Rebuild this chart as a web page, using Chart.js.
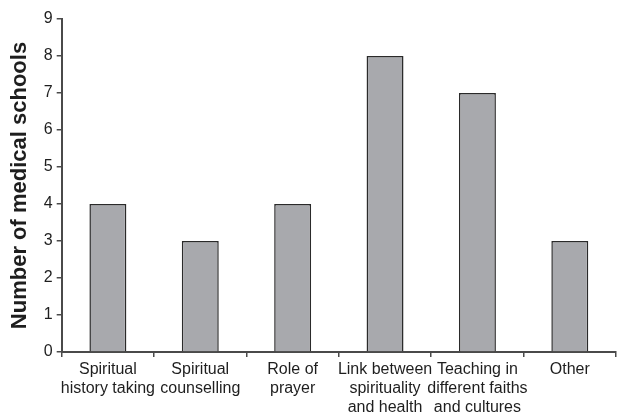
<!DOCTYPE html>
<html>
<head>
<meta charset="utf-8">
<script src="https://cdn.jsdelivr.net/npm/chart.js@4"></script>
<style>
  html, body { margin: 0; padding: 0; background: #fff; }
  #wrap { width: 617px; height: 414px; }
</style>
</head>
<body>
<div id="wrap"><canvas id="chart"></canvas></div>
<script>
// Data
// ----------------------------------------------
const categories = [
   ['Spiritual', 'history taking'],
   ['Spiritual', 'counselling'],
   ['Role of', 'prayer'],
   ['Link between', 'spirituality', 'and health'],
   ['Teaching in', 'different faiths', 'and cultures'],
   ['Other']
];
const schoolCounts = [4, 3, 4, 8, 7, 3];
const yTicks = [0, 1, 2, 3, 4, 5, 6, 7, 8, 9];

// Styles
// ----------------------------------------------
const axisColor = '#4a4a4a';
const textColor = '#1e1e1e';
const barFill   = '#a8a9ad';
const fontFam   = 'Liberation Sans, Arial, sans-serif';

new Chart(document.getElementById('chart'), {
   type: 'bar',
   data: {
      labels: categories,
      datasets: [{
         label: 'Number of medical schools',
         data: schoolCounts,
         backgroundColor: barFill,
         borderColor: '#2a2a2a',
         borderWidth: 1.5,
         barPercentage: 0.4,
         categoryPercentage: 1
      }]
   },
   options: {
      responsive: true,
      maintainAspectRatio: false,
      animation: false,
      layout: {
         padding: { top: 19, right: 1, bottom: -6.6, left: 4 }
      },
      plugins: {
         legend: { display: false },
         tooltip: { enabled: false }
      },
      scales: {
         y: {
            min: 0,
            max: 9,
            afterBuildTicks: (axis) => { axis.ticks = yTicks.map(v => ({ value: v })); },
            border: { color: axisColor, width: 2 },
            grid: {
               drawOnChartArea: false,
               drawTicks: true,
               tickLength: 5,
               color: axisColor,
               lineWidth: 1.5
            },
            ticks: {
               font: { family: fontFam, size: 16 },
               color: textColor,
               padding: 4
            },
            title: {
               display: true,
               text: 'Number of medical schools',
               font: { family: fontFam, size: 22, weight: 'bold' },
               color: textColor,
               padding: { top: 2.5, bottom: 6.9 }
            }
         },
         x: {
            border: { color: axisColor, width: 2 },
            grid: {
               drawOnChartArea: false,
               drawTicks: true,
               tickLength: 5,
               color: axisColor,
               lineWidth: 1.5
            },
            ticks: {
               font: { family: fontFam, size: 16, lineHeight: 1.2 },
               color: textColor,
               maxRotation: 0,
               minRotation: 0,
               autoSkip: false,
               padding: 3
            }
         }
      }
   }
});
</script>
</body>
</html>
